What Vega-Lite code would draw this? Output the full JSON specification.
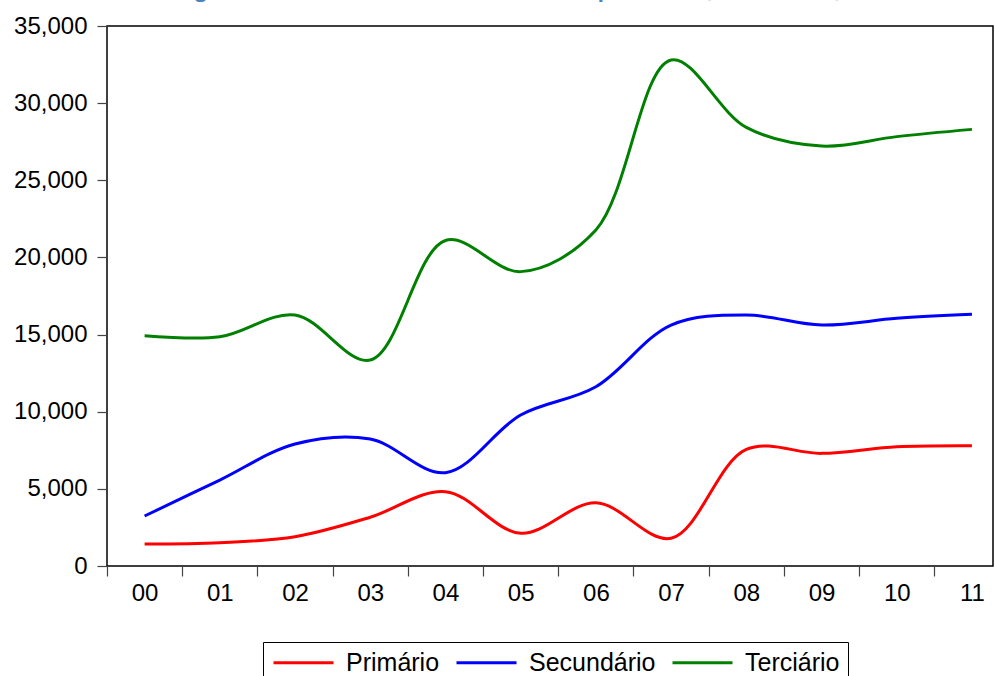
{
  "$schema": "https://vega.github.io/schema/vega-lite/v6.json",
  "width": 886,
  "height": 540,
  "autosize": {"type": "none"},
  "padding": {"left": 107, "top": 26, "right": 2, "bottom": 110},
  "background": "white",
  "title": {
    "text": "Figura 3.3.4 – Investimento Total Nominal por sector (milhões EUR)",
    "font": "Open Sans",
    "fontSize": 20,
    "fontWeight": "bold",
    "color": "#4F81BD",
    "anchor": "middle",
    "frame": "group",
    "dx": -40,
    "offset": 0,
    "dy": -13
  },
  "config": {
    "view": {"stroke": "black", "strokeWidth": 1.5},
    "axis": {"domain": false, "grid": false, "labelFont": "Liberation Sans", "labelFontSize": 24, "labelColor": "black"},
    "legend": {"labelFont": "Liberation Sans", "labelFontSize": 25, "labelColor": "black"}
  },
  "data": {
    "values": [
      {"ano": 0, "setor": "Primário", "valor": 1430},
      {"ano": 1, "setor": "Primário", "valor": 1510},
      {"ano": 2, "setor": "Primário", "valor": 1900},
      {"ano": 3, "setor": "Primário", "valor": 3160},
      {"ano": 4, "setor": "Primário", "valor": 4820},
      {"ano": 5, "setor": "Primário", "valor": 2120},
      {"ano": 6, "setor": "Primário", "valor": 4100},
      {"ano": 7, "setor": "Primário", "valor": 1800},
      {"ano": 8, "setor": "Primário", "valor": 7560},
      {"ano": 9, "setor": "Primário", "valor": 7300},
      {"ano": 10, "setor": "Primário", "valor": 7730},
      {"ano": 11, "setor": "Primário", "valor": 7800},
      {"ano": 0, "setor": "Secundário", "valor": 3240},
      {"ano": 1, "setor": "Secundário", "valor": 5570},
      {"ano": 2, "setor": "Secundário", "valor": 7910},
      {"ano": 3, "setor": "Secundário", "valor": 8230},
      {"ano": 4, "setor": "Secundário", "valor": 6050},
      {"ano": 5, "setor": "Secundário", "valor": 9790},
      {"ano": 6, "setor": "Secundário", "valor": 11620},
      {"ano": 7, "setor": "Secundário", "valor": 15620},
      {"ano": 8, "setor": "Secundário", "valor": 16270},
      {"ano": 9, "setor": "Secundário", "valor": 15620},
      {"ano": 10, "setor": "Secundário", "valor": 16050},
      {"ano": 11, "setor": "Secundário", "valor": 16310},
      {"ano": 0, "setor": "Terciário", "valor": 14930},
      {"ano": 1, "setor": "Terciário", "valor": 14860},
      {"ano": 2, "setor": "Terciário", "valor": 16270},
      {"ano": 3, "setor": "Terciário", "valor": 13350},
      {"ano": 4, "setor": "Terciário", "valor": 21100},
      {"ano": 5, "setor": "Terciário", "valor": 19080},
      {"ano": 6, "setor": "Terciário", "valor": 21780},
      {"ano": 7, "setor": "Terciário", "valor": 32800},
      {"ano": 8, "setor": "Terciário", "valor": 28430},
      {"ano": 9, "setor": "Terciário", "valor": 27220},
      {"ano": 10, "setor": "Terciário", "valor": 27830},
      {"ano": 11, "setor": "Terciário", "valor": 28300}
    ]
  },
  "mark": {"type": "line", "interpolate": "catmull-rom", "strokeWidth": 3},
  "encoding": {
    "x": {
      "field": "ano",
      "type": "quantitative",
      "scale": {"domain": [-0.5, 11.28], "nice": false, "zero": false},
      "axis": {
        "title": null,
        "values": [-0.5, 0, 0.5, 1, 1.5, 2, 2.5, 3, 3.5, 4, 4.5, 5, 5.5, 6, 6.5, 7, 7.5, 8, 8.5, 9, 9.5, 10, 10.5, 11],
        "labelExpr": "datum.value % 1 === 0 ? (datum.value < 10 ? '0' + datum.value : '' + datum.value) : ''",
        "tickOpacity": {"condition": {"test": "datum.value % 1 === 0", "value": 0}, "value": 1},
        "tickSize": 10,
        "tickColor": "#444",
        "tickWidth": 1.2,
        "labelPadding": 5,
        "labelOverlap": false,
        "labelFlush": false,
        "labelBound": false
      }
    },
    "y": {
      "field": "valor",
      "type": "quantitative",
      "scale": {"domain": [0, 35000], "nice": false},
      "axis": {
        "title": null,
        "values": [0, 5000, 10000, 15000, 20000, 25000, 30000, 35000],
        "format": ",d",
        "tickSize": 10,
        "tickColor": "#444",
        "tickWidth": 1.2,
        "labelPadding": 10
      }
    },
    "color": {
      "field": "setor",
      "type": "nominal",
      "scale": {"domain": ["Primário", "Secundário", "Terciário"], "range": ["#FF0000", "#0000FF", "#008000"]},
      "legend": {
        "title": null,
        "orient": "none",
        "legendX": 156,
        "legendY": 616,
        "direction": "horizontal",
        "strokeColor": "black",
        "fillColor": "white",
        "padding": 8,
        "symbolType": "M-6,0H6",
        "symbolSize": 100,
        "symbolOffset": 20,
        "symbolStrokeWidth": 3,
        "labelOffset": 30,
        "columnPadding": 10
      }
    }
  }
}
